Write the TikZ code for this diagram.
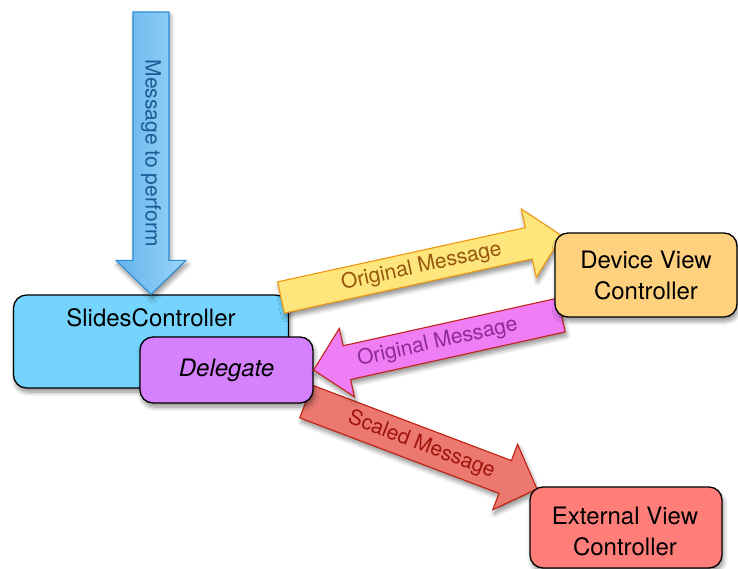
\documentclass[tikz,border=0pt]{standalone}
\usepackage{fontspec}
\setmainfont{TeX Gyre Heros}
\usetikzlibrary{calc,shadows,shadows.blur}

% fills and outlines
\definecolor{slidesfill}{HTML}{74D4FE}
\definecolor{delegatefill}{HTML}{D580FD}
\definecolor{devicefill}{HTML}{FDD17D}
\definecolor{externalfill}{HTML}{FF7E7A}
\definecolor{blueL}{HTML}{62B3EC}
\definecolor{blueR}{HTML}{9CD5F8}
\definecolor{blueline}{HTML}{2E8ED6}
\definecolor{bluetext}{HTML}{1C5A96}
\definecolor{yellowfill}{HTML}{FEE57C}
\definecolor{yellowline}{HTML}{F0960E}
\definecolor{yellowtext}{HTML}{96580C}
\definecolor{purplefill}{HTML}{EE7DF6}
\definecolor{purpleline}{HTML}{C52418}
\definecolor{purpletext}{HTML}{8E2A96}
\definecolor{redfill}{HTML}{EB7972}
\definecolor{redline}{HTML}{C2200E}
\definecolor{redtext}{HTML}{A0140C}

% broad block arrow: [style]{tail}{tip}{shaft half width}{head half width}
\newcommand\fatarrow[5][]{%
  \coordinate (hb) at ($(#3)!34pt!(#2)$);
  \draw[#1] ($(#2)!#4!90:(#3)$) -- ($(hb)!#4!-90:(#2)$) -- ($(hb)!#5!-90:(#2)$)
    -- (#3) -- ($(hb)!#5!90:(#2)$) -- ($(hb)!#4!90:(#2)$) -- ($(#2)!#4!-90:(#3)$) -- cycle;
}

\tikzset{
  softshadow/.style={blur shadow={shadow xshift=1.5pt, shadow yshift=-4pt,
      shadow blur radius=4.5pt, shadow blur steps=6, shadow opacity=45}},
  box/.style={draw=black, line width=1.3pt, rounded corners=13pt, softshadow},
  boxtext/.style={font=\fontsize{24}{31}\selectfont, align=center, inner sep=0pt},
  fat/.style={line width=1.1pt, line join=miter, softshadow},
  arrowlabel/.style={font=\fontsize{21}{25}\selectfont, inner sep=0pt},
}

\begin{document}
\begin{tikzpicture}[x=1pt, y=-1pt]
\useasboundingbox (0,0) rectangle (738,569);

% the controller that receives the message
\node[box, fill=slidesfill, minimum width=275pt, minimum height=93pt] (slides) at (151,341.5) {};
\node[boxtext] (slidestext) at (151,318) {SlidesController};

% incoming message
\coordinate (msgtop) at (151,12);
\fatarrow[fat, draw=blueline, left color=blueL, right color=blueR]{msgtop}{slides.north}{18pt}{35pt}
\path (msgtop) -- node[midway, rotate=-90, arrowlabel, text=bluetext] (msglabel) {Message to perform} (slides.north);

% message forwarded to the device view
\coordinate (yTail) at (281,297.5);
\coordinate (yTip) at (562,236);
\fatarrow[fat, draw=yellowline, fill=yellowfill]{yTail}{yTip}{16pt}{35pt}
\path (yTail) -- node[midway, sloped, arrowlabel, text=yellowtext] (ylabel) {Original Message} (yTip);

% scaled message to the external view
\coordinate (rTail) at (306,401.5);
\coordinate (rTip) at (537,489);
\fatarrow[fat, draw=redline, fill=redfill]{rTail}{rTip}{17.5pt}{35pt}
\path (rTail) -- node[midway, sloped, arrowlabel, text=redtext] (rlabel) {Scaled Message} (rTip);

% delegate inside the controller
\node[box, fill=delegatefill, minimum width=173pt, minimum height=66pt, boxtext] (delegate) at (226.5,370) {\itshape Delegate};

% message coming back from the device view
\coordinate (pTail) at (561.5,315);
\fatarrow[fat, draw=purpleline, fill=purplefill]{pTail}{delegate.east}{17.3pt}{35pt}
\path (pTail) -- node[midway, sloped, arrowlabel, text=purpletext] (plabel) {Original Message} (delegate.east);

% view controllers
\node[box, fill=devicefill, minimum width=182pt, minimum height=84pt, boxtext] (device) at (646,275) {Device View\\Controller};
\node[box, fill=externalfill, minimum width=192pt, minimum height=81pt] (external) at (626,527.5) {};
\node[boxtext] (externaltext) at (625,531) {External View\\Controller};
\end{tikzpicture}
\end{document}
